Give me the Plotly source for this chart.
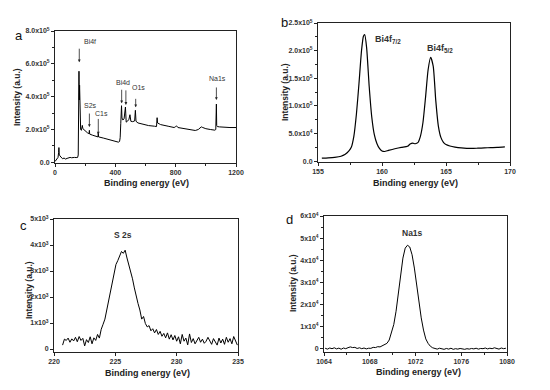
import plotly.graph_objects as go

# page has an 8px body margin; the figure is sized so it ends at the window edge
OFF = 8
W, H = 550 - OFF, 390 - OFF

# ---------------- data ----------------
# (a) survey spectrum
survey_be = [0, 10, 20, 24, 26, 28, 32, 40, 50, 60, 70, 80, 90, 100, 110, 120, 130, 140, 150, 154,
             156, 158, 159, 161, 163, 164, 166, 170, 175, 181, 185, 190, 200, 215, 226, 228, 230,
             250, 270, 285, 287, 289, 320, 360, 400, 420, 428, 432, 436, 439, 441, 444, 450, 458,
             463, 467, 469, 472, 480, 490, 497, 503, 515, 528, 533, 537, 550, 580, 620, 660, 673,
             677, 680, 690, 700, 750, 790, 800, 806, 815, 860, 900, 930, 950, 962, 970, 980, 1000,
             1030, 1060, 1066, 1070, 1072, 1076, 1090, 1120, 1160, 1200]
survey_int = [5000, 20000, 30000, 60000, 90000, 50000, 40000, 30000, 22000, 26000, 20000, 24000,
              27000, 30000, 28000, 31000, 30000, 29000, 30000, 45000, 200000, 420000, 555000,
              380000, 470000, 440000, 240000, 200000, 195000, 225000, 205000, 200000, 190000,
              180000, 175000, 195000, 172000, 165000, 160000, 155000, 178000, 155000, 148000,
              138000, 128000, 123000, 127000, 150000, 235000, 330000, 345000, 270000, 258000,
              265000, 300000, 337000, 300000, 245000, 250000, 262000, 290000, 250000, 248000,
              252000, 317000, 250000, 240000, 232000, 224000, 220000, 218000, 272000, 240000,
              235000, 230000, 220000, 212000, 218000, 222000, 212000, 205000, 198000, 194000,
              200000, 208000, 216000, 212000, 205000, 200000, 196000, 200000, 355000, 225000,
              218000, 216000, 213000, 212000, 212000]

# (b) Bi 4f high-resolution
bi_be = [155.3, 155.8, 156.3, 156.8, 157.1, 157.4, 157.6, 157.8, 158.0, 158.2, 158.4, 158.55,
         158.65, 158.8, 159.0, 159.2, 159.4, 159.6, 159.8, 160.0, 160.2, 160.5, 161.0, 161.5,
         162.0, 162.2, 162.4, 162.6, 162.8, 163.0, 163.2, 163.4, 163.6, 163.8, 164.0, 164.2,
         164.4, 164.6, 164.8, 165.0, 165.3, 165.7, 166.2, 167.0, 167.5, 168.0, 168.5, 169.0,
         169.6]
bi_int = [5400, 6000, 7000, 9000, 12000, 18000, 25000, 45000, 85000, 140000, 200000, 226000,
          229000, 205000, 135000, 80000, 48000, 32000, 23000, 18500, 17500, 19500, 22500, 25000,
          27000, 31000, 32500, 31500, 33500, 45000, 70000, 115000, 165000, 188000, 172000, 110000,
          64000, 43000, 34000, 30000, 27500, 25500, 24000, 23000, 23500, 24000, 24500, 25000,
          26000]

# (c) S 2s
s_be = [220.70, 220.85, 221.00, 221.15, 221.30, 221.45, 221.60, 221.75, 221.90, 222.05, 222.20,
        222.35, 222.50, 222.65, 222.80, 222.95, 223.10, 223.25, 223.40, 223.55, 223.70, 223.85,
        224.00, 224.15, 224.30, 224.45, 224.60, 224.75, 224.90, 225.05, 225.20, 225.35, 225.50,
        225.65, 225.80, 225.95, 226.10, 226.25, 226.40, 226.55, 226.70, 226.85, 227.00, 227.15,
        227.30, 227.45, 227.60, 227.75, 227.90, 228.05, 228.20, 228.35, 228.50, 228.65, 228.80,
        228.95, 229.10, 229.25, 229.40, 229.55, 229.70, 229.85, 230.00, 230.15, 230.30, 230.45,
        230.60, 230.75, 230.90, 231.05, 231.20, 231.35, 231.50, 231.65, 231.80, 231.95, 232.10,
        232.25, 232.40, 232.55, 232.70, 232.85, 233.00, 233.15, 233.30, 233.45, 233.60, 233.75,
        233.90, 234.05, 234.20, 234.35, 234.50, 234.65, 234.80, 234.95]
s_int = [150, 380, 330, 420, 260, 390, 310, 450, 280, 480, 330, 410, 120, 360, 250, 470, 200, 430,
         330, 560, 420, 760, 950, 1150, 1500, 1850, 2150, 2600, 2950, 3250, 3400, 3600, 3750, 3680,
         3800, 3500, 3250, 2900, 2700, 2350, 2000, 1750, 1500, 1150, 1250, 980, 850, 900, 700, 780,
         620, 750, 560, 680, 490, 600, 430, 620, 380, 550, 350, 520, 300, 470, 200, 560, 300, 420,
         160, 580, 250, 400, 200, 330, 450, 260, 380, 220, 300, 450, 330, 180, 400, 250, 150, 420,
         230, 380, 180, 450, 260, 400, 200, 480, 300, 150]

# (d) Na 1s
na_be = [1064.1, 1064.3, 1064.5, 1064.7, 1064.9, 1065.1, 1065.3, 1065.5, 1065.7, 1065.9, 1066.1,
         1066.3, 1066.5, 1066.7, 1066.9, 1067.1, 1067.3, 1067.5, 1067.7, 1067.9, 1068.1, 1068.3,
         1068.5, 1068.7, 1068.9, 1069.1, 1069.3, 1069.5, 1069.7, 1069.9, 1070.1, 1070.3, 1070.5,
         1070.7, 1070.9, 1071.1, 1071.3, 1071.5, 1071.7, 1071.9, 1072.1, 1072.3, 1072.5, 1072.7,
         1072.9, 1073.1, 1073.3, 1073.5, 1073.7, 1073.9, 1074.1, 1074.3, 1074.5, 1074.7, 1074.9,
         1075.1, 1075.3, 1075.5, 1075.7, 1075.9, 1076.1, 1076.3, 1076.5, 1076.7, 1076.9, 1077.1,
         1077.3, 1077.5, 1077.7, 1077.9, 1078.1, 1078.3, 1078.5, 1078.7, 1078.9, 1079.1, 1079.3,
         1079.5, 1079.7, 1079.9]
na_int = [300, -100, 400, 100, 500, 0, 350, -150, 400, 100, 550, 900, 600, 700, 200, 500, 100,
          400, 0, 300, 250, 700, 600, 1000, 900, 1500, 1800, 2500, 4000, 7000, 11000, 17000, 25000,
          34000, 41000, 45500, 46800, 46000, 42500, 36500, 29000, 21000, 14000, 8500, 4500, 2500,
          1200, 500, 200, -100, 300, 0, -200, 200, -100, 300, -200, 100, -100, 200, 0, -200, 100,
          -100, 200, 0, 300, -100, 200, 100, 400, 0, 300, 100, 500, 200, -100, 400, 100, 300]

# tick labels
a_yvals = [0, 200000, 400000, 600000, 800000]
a_ytext = ["0.0", "2.0x10<sup>5</sup>", "4.0x10<sup>5</sup>", "6.0x10<sup>5</sup>", "8.0x10<sup>5</sup>"]
b_yvals = [0, 50000, 100000, 150000, 200000, 250000]
b_ytext = ["0.0", "5.0x10<sup>4</sup>", "1.0x10<sup>5</sup>", "1.5x10<sup>5</sup>",
           "2.0x10<sup>5</sup>", "2.5x10<sup>5</sup>"]
c_yvals = [0, 1000, 2000, 3000, 4000, 5000]
c_ytext = ["0", "1x10<sup>3</sup>", "2x10<sup>3</sup>", "3x10<sup>3</sup>", "4x10<sup>3</sup>", "5x10<sup>3</sup>"]
d_yvals = [0, 10000, 20000, 30000, 40000, 50000, 60000]
d_ytext = ["0", "1x10<sup>4</sup>", "2x10<sup>4</sup>", "3x10<sup>4</sup>", "4x10<sup>4</sup>",
           "5x10<sup>4</sup>", "6x10<sup>4</sup>"]

# ---------------- figure ----------------
FONT = "Arial, Liberation Sans, sans-serif"
TICKFONT = dict(family=FONT, size=7, color="#333", weight="bold")


def px_x(p):
    return (p - OFF) / W


def px_y(p):
    return 1 - (p - OFF) / H


def xax(dom, rng, dtick, minor_dtick, anchor):
    d = dict(domain=dom, range=rng, anchor=anchor, showgrid=False, zeroline=False,
             showline=True, linecolor="#222", linewidth=1, mirror=True, automargin=False,
             ticks="outside", ticklen=3, tickwidth=1, tickcolor="#222",
             tick0=rng[0], dtick=dtick, tickfont=TICKFONT)
    if minor_dtick:
        d["minor"] = dict(ticks="outside", ticklen=2, dtick=minor_dtick, tick0=rng[0],
                          tickcolor="#222", showgrid=False)
    return d


def yax(dom, rng, vals, text, minor_dtick, anchor):
    d = dict(domain=dom, range=rng, anchor=anchor, showgrid=False, zeroline=False,
             showline=True, linecolor="#222", linewidth=1, mirror=True, automargin=False,
             ticks="outside", ticklen=3, tickwidth=1, tickcolor="#222",
             tickmode="array", tickvals=vals, ticktext=text, tickfont=TICKFONT)
    if minor_dtick:
        d["minor"] = dict(ticks="outside", ticklen=2, dtick=minor_dtick, tick0=0,
                          tickcolor="#222", showgrid=False)
    return d


fig = go.Figure()
line = dict(color="black", width=1)
fig.add_trace(go.Scatter(x=survey_be, y=survey_int, mode="lines", line=line, xaxis="x", yaxis="y"))
fig.add_trace(go.Scatter(x=bi_be, y=bi_int, mode="lines", line=dict(color="black", width=1.2,
                         shape="spline", smoothing=0.6), xaxis="x2", yaxis="y2"))
fig.add_trace(go.Scatter(x=s_be, y=s_int, mode="lines", line=line, xaxis="x3", yaxis="y3"))
fig.add_trace(go.Scatter(x=na_be, y=na_int, mode="lines", line=line, xaxis="x4", yaxis="y4"))

# plot-area pixel boxes (window coordinates)
A = (55, 236, 31, 163)
B = (318, 510, 23, 162)
C = (54, 238, 219, 352)
D = (324, 507, 216, 352)


def dom(box):
    l, r, t, b = box
    return [px_x(l), px_x(r)], [px_y(b), px_y(t)]


ax_, ay_ = dom(A)
bx_, by_ = dom(B)
cx_, cy_ = dom(C)
dx_, dy_ = dom(D)

fig.update_layout(
    width=W, height=H, margin=dict(l=0, r=0, t=0, b=0, autoexpand=False),
    paper_bgcolor="white", plot_bgcolor="white", showlegend=False,
    xaxis=xax(ax_, [0, 1200], 400, 200, "y"),
    yaxis=yax(ay_, [-4000, 800000], a_yvals, a_ytext, 100000, "x"),
    xaxis2=xax(bx_, [155, 170], 5, 2.5, "y2"),
    yaxis2=yax(by_, [-1500, 250000], b_yvals, b_ytext, 25000, "x2"),
    xaxis3=xax(cx_, [220, 235], 5, None, "y3"),
    yaxis3=yax(cy_, [-115, 5000], c_yvals, c_ytext, None, "x3"),
    xaxis4=xax(dx_, [1064, 1080], 4, 2, "y4"),
    yaxis4=yax(dy_, [-1400, 60000], d_yvals, d_ytext, 5000, "x4"),
)

ann = []


def paper_text(x, y, text, size, weight="bold", angle=0, color="#222"):
    ann.append(dict(xref="paper", yref="paper", x=px_x(x), y=px_y(y), text=text, showarrow=False,
                    textangle=angle, xanchor="center", yanchor="middle",
                    font=dict(family=FONT, size=size, color=color, weight=weight)))


# axis titles
for (xc, yc) in [(146, 183), (415, 183), (147, 373), (418, 372)]:
    paper_text(xc, yc, "Binding energy (eV)", 9)
for (xc, yc) in [(17, 97), (285, 92), (29, 290), (293, 283)]:
    paper_text(xc, yc, "Intensity (a.u.)", 8.5, angle=-90)

# panel letters
for (xc, yc, t) in [(19, 36, "a"), (284, 23, "b"), (23, 225, "c"), (290, 219, "d")]:
    paper_text(xc, yc, t, 13, weight="normal", color="#111")


# panel a arrows and labels
def arrow(xr, yr, x, y, dy):
    ann.append(dict(xref=xr, yref=yr, x=x, y=y, ax=0, ay=-dy, text="", showarrow=True,
                    arrowhead=2, arrowsize=0.7, arrowwidth=0.8, arrowcolor="#222"))


def lab(xr, yr, x, y, t, size, weight="normal", xanchor="center"):
    ann.append(dict(xref=xr, yref=yr, x=x, y=y, text=t, showarrow=False, xanchor=xanchor,
                    yanchor="middle", font=dict(family=FONT, size=size, color="#333", weight=weight)))


arrow("x", "y", 161, 610000, 15)
lab("x", "y", 180, 735000, "Bi4f", 7, xanchor="left")
arrow("x", "y", 228, 215000, 15)
lab("x", "y", 235, 345000, "S2s", 7)
arrow("x", "y", 287, 170000, 17)
lab("x", "y", 305, 300000, "C1s", 7)
arrow("x", "y", 442, 360000, 15)
arrow("x", "y", 470, 350000, 16)
lab("x", "y", 452, 485000, "Bi4d", 7)
arrow("x", "y", 535, 335000, 10)
lab("x", "y", 555, 455000, "O1s", 7)
arrow("x", "y", 1070, 380000, 14)
lab("x", "y", 1075, 510000, "Na1s", 7)

# other panels
lab("x2", "y2", 159.3, 220000, "Bi4f<sub>7/2</sub>", 9, weight="bold", xanchor="left")
lab("x2", "y2", 164.5, 203000, "Bi4f<sub>5/2</sub>", 9, weight="bold")
lab("x3", "y3", 225.6, 4400, "S 2s", 8.5, weight="bold")
lab("x4", "y4", 1071.7, 52300, "Na1s", 8.5, weight="bold")

fig.update_layout(annotations=ann)
fig.write_html("out.html")
